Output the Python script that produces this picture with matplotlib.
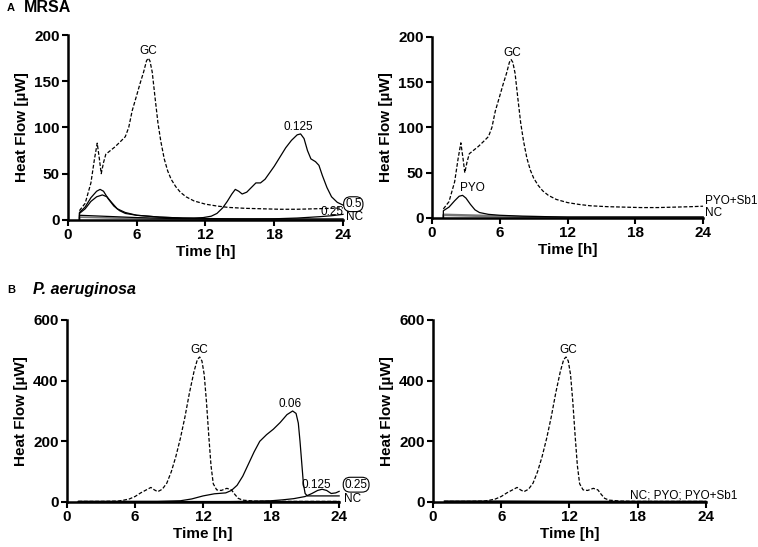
"""Isothermal microcalorimetry heat-flow curves for MRSA and P. aeruginosa."""

import matplotlib

matplotlib.use("Agg")
import matplotlib.pyplot as plt

plt.rcParams["font.family"] = ["Liberation Sans", "DejaVu Sans"]

# ---- Panel A (MRSA) -------------------------------------------------------
a_gc_t = [1.0, 1.5, 2.0, 2.3, 2.55, 2.75, 2.9, 3.1, 3.3, 3.6, 4.1, 4.6, 5.0, 5.3, 5.6,
          6.0, 6.3, 6.6, 6.85, 7.0, 7.15, 7.35, 7.6, 7.85, 8.1, 8.4, 8.7, 9.0, 9.4, 9.8,
          10.3, 11.0, 12.0, 13.0, 14.0, 15.5, 17.0, 18.5, 20.0, 21.5, 23.0, 24.0]
a_gc_y = [10, 18, 40, 65, 83, 65, 50, 62, 71, 74, 79, 85, 90, 100, 118,
          135, 148, 160, 172, 175, 172, 160, 132, 105, 85, 66, 53, 44, 36, 30,
          25, 20.5, 17, 15, 13.5, 12.5, 12, 11.5, 11.5, 12, 12.5, 13]

a_0125_t = [1.0, 1.0, 1.5, 2.0, 2.5, 2.8, 3.1, 3.5, 4.0, 4.5, 5.0, 6.0, 7.0, 8.0, 9.0,
            10.0, 11.0, 11.8, 12.5, 13.0, 13.5, 13.9, 14.3, 14.6, 14.9, 15.2, 15.6,
            16.0, 16.4, 16.8, 17.2, 17.6, 18.0, 18.5, 19.0, 19.5, 20.0, 20.3, 20.6,
            20.9, 21.2, 21.6, 21.9, 22.2, 22.6, 23.0, 23.5, 24.0]
a_0125_y = [0, 8, 14, 24, 31, 33, 31, 23, 15, 10, 7, 5, 4, 3, 2.5,
            2, 2, 2.5, 4, 7, 13, 20, 28, 33, 31, 28, 30,
            35, 40, 40, 44, 51, 58, 68, 78, 86, 92, 93, 88,
            75, 66, 63, 59, 48, 35, 25, 19, 16]

a_05_t = [1.0, 1.0, 1.5, 2.0, 2.5, 3.0, 3.4, 3.8, 4.3, 5.0, 6.0, 7.0, 8.0, 10.0, 12.0,
          14.0, 16.0, 18.0, 20.0, 22.0, 24.0]
a_05_y = [0, 7, 12, 20, 25, 27, 25, 19, 12, 8, 5, 4, 3, 2, 1.5,
          1.2, 1, 1, 1, 1, 1]

a_025_t = [1.0, 1.0, 3.0, 6.0, 9.0, 12.0, 15.0, 18.0, 20.0, 22.0, 23.0, 24.0]
a_025_y = [0, 5, 4, 2.5, 1.5, 1, 1, 1.2, 2, 3.5, 4.5, 6]

a_nc_t = [1.0, 1.0, 4.0, 8.0, 12.0, 16.0, 20.0, 24.0]
a_nc_y = [0, 3, 2, 1, 0.5, 0.5, 0.5, 0.5]

a_pyo_t = [1.0, 1.0, 1.5, 2.0, 2.4, 2.7, 3.0, 3.4, 3.8, 4.2, 5.0, 6.0, 8.0, 10.0, 12.0,
           16.0, 20.0, 24.0]
a_pyo_y = [0, 8, 12, 19, 24, 25, 22, 15, 9, 6, 4, 3, 2, 1.5, 1,
           1, 1, 1]

a_pyosb_t = [1.0, 1.0, 4.0, 8.0, 12.0, 16.0, 20.0, 24.0]
a_pyosb_y = [0, 4, 3, 1.5, 1, 1, 1, 1]

# ---- Panel B (P. aeruginosa) ---------------------------------------------
b_gc_t = [1.0, 3.0, 4.5, 5.0, 5.5, 6.0, 6.5, 7.0, 7.4, 7.7, 8.0, 8.4, 8.8, 9.2, 9.6,
          10.0, 10.4, 10.8, 11.2, 11.5, 11.7, 11.9, 12.1, 12.3, 12.5, 12.7, 12.9, 13.2,
          13.6, 14.1, 14.5, 14.8, 15.1, 15.5, 16.5, 18.0, 20.0, 22.0, 24.0]
b_gc_y = [2, 2, 3, 6, 10, 18, 30, 40, 48, 40, 34, 42, 62, 100, 150,
          210, 280, 360, 430, 470, 478, 465, 420, 330, 220, 120, 60, 40,
          38, 45, 40, 25, 12, 6, 3, 2, 2, 2, 2]

b_006_t = [1.0, 8.0, 10.0, 11.0, 12.0, 13.0, 14.0, 14.5, 15.0, 15.5, 16.0, 16.5, 17.0,
           17.6, 18.2, 18.8, 19.4, 19.9, 20.2, 20.4, 20.55, 20.7, 20.85, 21.0, 21.2,
           22.0, 23.0, 24.0]
b_006_y = [2, 2, 4, 10, 20, 27, 30, 38, 55, 85, 125, 165, 200,
           222, 240, 262, 288, 300, 292, 260, 200, 130, 60, 28, 20,
           20, 20, 20]

b_0125_t = [1.0, 14.0, 16.0, 18.0, 19.0, 20.0, 21.0, 21.6, 22.1, 22.5, 22.9, 23.3, 23.7, 24.0]
b_0125_y = [1, 1, 2, 4, 7, 11, 18, 28, 38, 42, 38, 28, 30, 35]

b_nc_t = [1.0, 6.0, 12.0, 18.0, 24.0]
b_nc_y = [2, 2, 2, 2, 2]

b_pyo_t = [1.0, 6.0, 12.0, 18.0, 24.0]
b_pyo_y = [3, 3, 2, 2, 2]

XTICKS = [0, 6, 12, 18, 24]


def style(ax, ymax, yticks):
    ax.set_xlim(0, 24)
    ax.set_ylim(0, ymax)
    ax.set_xticks(XTICKS)
    ax.set_yticks(yticks)
    for side in ("top", "right"):
        ax.spines[side].set_visible(False)
    for side in ("left", "bottom"):
        ax.spines[side].set_linewidth(1.8)
    ax.tick_params(direction="out", length=4, width=1.5, labelsize=11, pad=2)
    for lab in ax.get_xticklabels() + ax.get_yticklabels():
        lab.set_fontweight("bold")
    ax.set_xlabel("Time [h]", fontsize=11, fontweight="bold", labelpad=2)
    ax.set_ylabel("Heat Flow [\u00b5W]", fontsize=11, fontweight="bold", labelpad=4)


def note(ax, x, y, s, ha="center", circle=False):
    kw = {}
    if circle:
        kw["bbox"] = dict(boxstyle="round,pad=0.12,rounding_size=0.6",
                          fc="none", ec="black", lw=0.8)
    ax.text(x, y, s, ha=ha, va="center", fontsize=8.5, clip_on=False, **kw)


fig = plt.figure(figsize=(7.58, 5.47), dpi=100)
ax1 = fig.add_axes([0.0897, 0.598, 0.3628, 0.338])
ax2 = fig.add_axes([0.570, 0.6015, 0.3575, 0.331])
ax3 = fig.add_axes([0.0884, 0.0823, 0.359, 0.3327])
ax4 = fig.add_axes([0.5712, 0.0823, 0.360, 0.3327])

solid = dict(color="black", lw=0.9, clip_on=False)
dash = dict(color="black", lw=0.9, ls=(0, (3, 1.5)), clip_on=False)
grey = dict(color="#777777", lw=1.2, clip_on=False)

# A left: MRSA with antibiotic concentrations
ax1.plot(a_nc_t, a_nc_y, **grey)
ax1.plot(a_025_t, a_025_y, **solid)
ax1.plot(a_05_t, a_05_y, **solid)
ax1.plot(a_0125_t, a_0125_y, **solid)
ax1.plot(a_gc_t, a_gc_y, **dash)
style(ax1, 200, [0, 50, 100, 150, 200])
note(ax1, 7.0, 183, "GC")
note(ax1, 20.1, 101, "0.125")
note(ax1, 24.9, 17, "0.5", circle=True)
note(ax1, 23.0, 9, "0.25")
note(ax1, 24.3, 3, "NC", ha="left")

# A right: MRSA with pyocin / phage
ax2.plot(a_nc_t, a_nc_y, **grey)
ax2.plot(a_pyosb_t, a_pyosb_y, **grey)
ax2.plot(a_pyo_t, a_pyo_y, **solid)
ax2.plot(a_gc_t, a_gc_y, **dash)
style(ax2, 200, [0, 50, 100, 150, 200])
note(ax2, 7.1, 182, "GC")
note(ax2, 3.6, 33, "PYO")
note(ax2, 24.15, 19, "PYO+Sb1", ha="left")
note(ax2, 24.15, 5, "NC", ha="left")

# B left: P. aeruginosa with antibiotic concentrations
ax3.plot(b_nc_t, b_nc_y, **solid)
ax3.plot(b_0125_t, b_0125_y, **solid)
ax3.plot(b_006_t, b_006_y, **solid)
ax3.plot(b_gc_t, b_gc_y, **dash)
style(ax3, 600, [0, 200, 400, 600])
note(ax3, 11.65, 500, "GC")
note(ax3, 19.65, 322, "0.06")
note(ax3, 22.0, 57, "0.125")
note(ax3, 25.5, 57, "0.25", circle=True)
note(ax3, 24.4, 10, "NC", ha="left")

# B right: P. aeruginosa with pyocin / phage
ax4.plot(b_nc_t, b_nc_y, **solid)
ax4.plot(b_pyo_t, b_pyo_y, **solid)
ax4.plot(b_gc_t, b_gc_y, **dash)
style(ax4, 600, [0, 200, 400, 600])
note(ax4, 11.9, 500, "GC")
note(ax4, 17.3, 22, "NC; PYO; PYO+Sb1", ha="left")

fig.text(0.009, 0.986, "A", fontsize=8, fontweight="bold", va="center")
fig.text(0.031, 0.986, "MRSA", fontsize=11.5, fontweight="bold", va="center")
fig.text(0.009, 0.470, "B", fontsize=8, fontweight="bold", va="center")
fig.text(0.043, 0.470, "P. aeruginosa", fontsize=11.5, fontweight="bold",
         style="italic", va="center")

fig.savefig("out.png", dpi=100)
plt.close(fig)
